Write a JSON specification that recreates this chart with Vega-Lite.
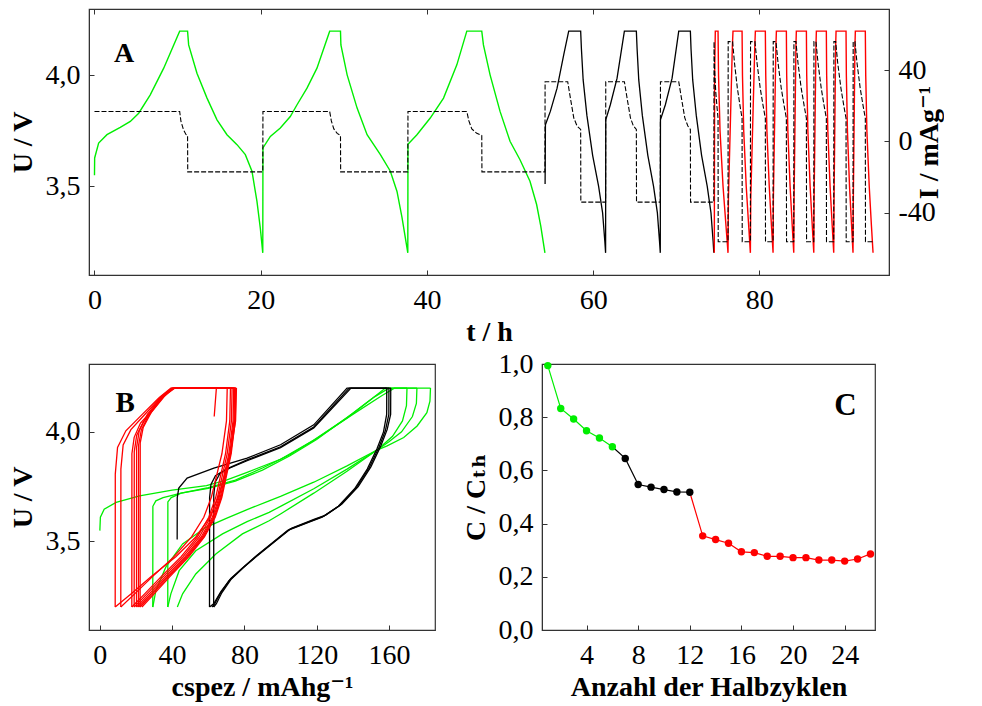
{
"$schema": "https://vega.github.io/schema/vega-lite/v6.json",
"padding": {"left": 8, "top": 7, "right": 0, "bottom": 0},
"background": "white",
"config": {
  "font": "Liberation Serif, Times New Roman, Times, DejaVu Serif, serif",
  "view": {"stroke": "#333", "strokeWidth": 1.2},
  "axis": {"grid": false, "tickSize": -5, "tickColor": "#333", "domainColor": "#333", "labelFontSize": 28, "titleFontSize": 28, "titleFontWeight": "bold", "labelColor": "#000", "titleColor": "#000", "labelFlush": false, "labelOverlap": false, "labelFont": "Liberation Serif, Times New Roman, Times, DejaVu Serif, serif", "titleFont": "Liberation Serif, Times New Roman, Times, DejaVu Serif, serif"},
  "axisX": {"labelPadding": 16, "titlePadding": 4},
  "axisY": {"labelPadding": 14, "titlePadding": 8}
},
"datasets": {
  "aG": [{"t":0,"V":3.55},{"t":0.02,"V":3.628},{"t":0.5,"V":3.695},{"t":1.5,"V":3.733},{"t":3.1,"V":3.766},{"t":4.31,"V":3.793},{"t":5.32,"V":3.83},{"t":6.71,"V":3.913},{"t":8.33,"V":4.033},{"t":10.25,"V":4.2},{"t":11.2,"V":4.2},{"t":11.33,"V":4.138},{"t":12.33,"V":4.01},{"t":13.54,"V":3.898},{"t":14.74,"V":3.8},{"t":15.94,"V":3.733},{"t":17.15,"V":3.688},{"t":18.15,"V":3.643},{"t":18.95,"V":3.568},{"t":19.55,"V":3.432},{"t":19.95,"V":3.312},{"t":20.25,"V":3.2},
  {"t":20.27,"V":3.673},{"t":21.16,"V":3.725},{"t":22.36,"V":3.763},{"t":23.56,"V":3.815},{"t":24.37,"V":3.868},{"t":25.57,"V":3.943},{"t":26.77,"V":4.033},{"t":28.3,"V":4.2},{"t":29.6,"V":4.2},{"t":29.65,"V":4.138},{"t":30.4,"V":4.003},{"t":31.6,"V":3.853},{"t":32.8,"V":3.733},{"t":34.4,"V":3.643},{"t":35.6,"V":3.568},{"t":36.4,"V":3.477},{"t":37.0,"V":3.36},{"t":37.7,"V":3.2},
  {"t":37.72,"V":3.69},{"t":38.8,"V":3.733},{"t":40.4,"V":3.808},{"t":42.0,"V":3.898},{"t":43.6,"V":4.048},{"t":44.8,"V":4.2},{"t":46.6,"V":4.2},{"t":46.8,"V":4.138},{"t":47.6,"V":4.003},{"t":48.8,"V":3.838},{"t":50.0,"V":3.703},{"t":51.2,"V":3.62},{"t":52.4,"V":3.523},{"t":53.2,"V":3.418},{"t":53.7,"V":3.32},{"t":54.2,"V":3.2}],
  "aK": [{"t":54.22,"V":3.51},{"t":54.26,"V":3.778},{"t":54.85,"V":3.838},{"t":55.66,"V":3.943},{"t":56.46,"V":4.093},{"t":57.06,"V":4.2},{"t":58.5,"V":4.2},{"t":58.59,"V":4.12},{"t":58.8,"V":3.98},{"t":59.25,"V":3.82},{"t":59.94,"V":3.64},{"t":60.66,"V":3.5},{"t":61.14,"V":3.38},{"t":61.41,"V":3.25},{"t":61.5,"V":3.2},
  {"t":61.52,"V":3.8},{"t":62.07,"V":3.868},{"t":62.88,"V":3.988},{"t":63.76,"V":4.2},{"t":65.2,"V":4.2},{"t":65.29,"V":4.12},{"t":65.49,"V":3.98},{"t":65.92,"V":3.82},{"t":66.58,"V":3.64},{"t":67.27,"V":3.5},{"t":67.73,"V":3.38},{"t":67.99,"V":3.25},{"t":68.08,"V":3.2},
  {"t":68.1,"V":3.8},{"t":68.69,"V":3.868},{"t":69.5,"V":3.988},{"t":70.3,"V":4.2},{"t":71.7,"V":4.2},{"t":71.78,"V":4.12},{"t":71.98,"V":3.98},{"t":72.41,"V":3.82},{"t":73.05,"V":3.64},{"t":73.73,"V":3.5},{"t":74.18,"V":3.38},{"t":74.44,"V":3.25},{"t":74.52,"V":3.2}],
  "aR": [{"t":74.58,"V":3.2},{"t":74.62,"V":4.0},{"t":74.7,"V":4.2},{"t":75.03,"V":4.2},{"t":75.09,"V":4.0},{"t":75.27,"V":3.75},{"t":75.63,"V":3.5},{"t":75.99,"V":3.32},{"t":76.23,"V":3.2},
  {"t":76.28,"V":3.45},{"t":76.75,"V":4.13},{"t":76.83,"V":4.2},{"t":77.92,"V":4.2},{"t":77.97,"V":4.0},{"t":78.12,"V":3.75},{"t":78.42,"V":3.5},{"t":78.72,"V":3.32},{"t":78.92,"V":3.2},
  {"t":78.97,"V":3.45},{"t":79.45,"V":4.13},{"t":79.52,"V":4.2},{"t":80.72,"V":4.2},{"t":80.77,"V":4.0},{"t":80.91,"V":3.75},{"t":81.19,"V":3.5},{"t":81.46,"V":3.32},{"t":81.65,"V":3.2},
  {"t":81.69,"V":3.45},{"t":81.99,"V":4.13},{"t":82.05,"V":4.2},{"t":83.25,"V":4.2},{"t":83.29,"V":4.0},{"t":83.43,"V":3.75},{"t":83.7,"V":3.5},{"t":83.96,"V":3.32},{"t":84.14,"V":3.2},
  {"t":84.18,"V":3.45},{"t":84.4,"V":4.13},{"t":84.45,"V":4.2},{"t":85.66,"V":4.2},{"t":85.7,"V":4.0},{"t":85.84,"V":3.75},{"t":86.11,"V":3.5},{"t":86.37,"V":3.32},{"t":86.55,"V":3.2},
  {"t":86.59,"V":3.45},{"t":86.81,"V":4.13},{"t":86.86,"V":4.2},{"t":88.06,"V":4.2},{"t":88.1,"V":4.0},{"t":88.24,"V":3.75},{"t":88.51,"V":3.5},{"t":88.77,"V":3.32},{"t":88.95,"V":3.2},
  {"t":88.99,"V":3.45},{"t":89.18,"V":4.13},{"t":89.23,"V":4.2},{"t":90.43,"V":4.2},{"t":90.47,"V":4.0},{"t":90.6,"V":3.75},{"t":90.85,"V":3.5},{"t":91.1,"V":3.32},{"t":91.27,"V":3.2},
  {"t":91.31,"V":3.45},{"t":91.5,"V":4.13},{"t":91.55,"V":4.2},{"t":92.75,"V":4.2},{"t":92.8,"V":4.0},{"t":92.94,"V":3.75},{"t":93.22,"V":3.5},{"t":93.49,"V":3.32},{"t":93.68,"V":3.2}],
  "aI": [{"t":0,"I":16.8},{"t":10.25,"I":16.8},{"t":10.4,"I":11.4},{"t":10.7,"I":6.7},{"t":11.0,"I":3.9},{"t":11.2,"I":3.4},{"t":11.22,"I":-17.1},{"t":20.25,"I":-17.1},{"t":20.27,"I":16.8},{"t":28.3,"I":16.8},{"t":28.5,"I":11.5},{"t":28.8,"I":7},{"t":29.2,"I":4.5},{"t":29.6,"I":3.3},{"t":29.62,"I":-17.1},{"t":37.7,"I":-17.1},{"t":37.72,"I":16.8},{"t":44.8,"I":16.8},{"t":45.05,"I":11.5},{"t":45.4,"I":7},{"t":46.0,"I":4.5},{"t":46.6,"I":3.3},{"t":46.62,"I":-17.1},{"t":54.2,"I":-17.1},
  {"t":54.22,"I":33.5},{"t":56.94,"I":33.5},{"t":57.26,"I":24.4},{"t":57.67,"I":13.2},{"t":58.07,"I":8.6},{"t":58.5,"I":6.7},{"t":58.52,"I":-34.1},{"t":61.5,"I":-34.1},{"t":61.52,"I":33.5},{"t":63.76,"I":33.5},{"t":64.08,"I":24.4},{"t":64.49,"I":13.2},{"t":64.85,"I":8.6},{"t":65.2,"I":6.7},{"t":65.22,"I":-34.1},{"t":68.08,"I":-34.1},{"t":68.1,"I":33.5},{"t":70.3,"I":33.5},{"t":70.62,"I":24.4},{"t":71.03,"I":13.2},{"t":71.4,"I":8.6},{"t":71.7,"I":6.7},{"t":71.72,"I":-34.1},{"t":74.52,"I":-34.1},
  {"t":74.55,"I":56},{"t":74.62,"I":40},{"t":74.75,"I":28},{"t":74.9,"I":19.5},{"t":75.03,"I":13},{"t":75.05,"I":-56.3},{"t":76.23,"I":-56.3},
  {"t":76.25,"I":56},{"t":76.78,"I":56},{"t":77.01,"I":44},{"t":77.35,"I":30},{"t":77.69,"I":19.5},{"t":77.92,"I":13},{"t":77.94,"I":-56.3},{"t":78.92,"I":-56.3},
  {"t":78.94,"I":56},{"t":79.47,"I":56},{"t":79.72,"I":44},{"t":80.1,"I":30},{"t":80.47,"I":19.5},{"t":80.72,"I":13},{"t":80.74,"I":-56.3},{"t":81.65,"I":-56.3},
  {"t":81.67,"I":56},{"t":82.0,"I":56},{"t":82.25,"I":44},{"t":82.63,"I":30},{"t":83.0,"I":19.5},{"t":83.25,"I":13},{"t":83.27,"I":-56.3},{"t":84.14,"I":-56.3},
  {"t":84.16,"I":56},{"t":84.4,"I":56},{"t":84.65,"I":44},{"t":85.03,"I":30},{"t":85.41,"I":19.5},{"t":85.66,"I":13},{"t":85.68,"I":-56.3},{"t":86.55,"I":-56.3},
  {"t":86.57,"I":56},{"t":86.81,"I":56},{"t":87.06,"I":44},{"t":87.44,"I":30},{"t":87.81,"I":19.5},{"t":88.06,"I":13},{"t":88.08,"I":-56.3},{"t":88.95,"I":-56.3},
  {"t":88.97,"I":56},{"t":89.18,"I":56},{"t":89.43,"I":44},{"t":89.81,"I":30},{"t":90.18,"I":19.5},{"t":90.43,"I":13},{"t":90.45,"I":-56.3},{"t":91.27,"I":-56.3},
  {"t":91.29,"I":56},{"t":91.5,"I":56},{"t":91.75,"I":44},{"t":92.13,"I":30},{"t":92.5,"I":19.5},{"t":92.75,"I":13},{"t":92.77,"I":-56.3},{"t":93.68,"I":-56.3}],
  "bG": [
  {"h":1,"c":0,"V":3.549},{"h":1,"c":0.3,"V":3.61},{"h":1,"c":2.4,"V":3.647},{"h":1,"c":9,"V":3.678},{"h":1,"c":22,"V":3.708},{"h":1,"c":40,"V":3.734},{"h":1,"c":59,"V":3.754},{"h":1,"c":70,"V":3.78},{"h":1,"c":81.5,"V":3.815},{"h":1,"c":100,"V":3.875},{"h":1,"c":118,"V":3.96},{"h":1,"c":137,"V":4.065},{"h":1,"c":152,"V":4.16},{"h":1,"c":160,"V":4.2},{"h":1,"c":183,"V":4.2},
  {"h":2,"c":183,"V":4.2},{"h":2,"c":182.7,"V":4.14},{"h":2,"c":181,"V":4.088},{"h":2,"c":175.6,"V":4.027},{"h":2,"c":168.2,"V":3.974},{"h":2,"c":159,"V":3.936},{"h":2,"c":153.4,"V":3.917},{"h":2,"c":136.8,"V":3.845},{"h":2,"c":118.4,"V":3.77},{"h":2,"c":100,"V":3.705},{"h":2,"c":93.7,"V":3.685},{"h":2,"c":81.5,"V":3.645},{"h":2,"c":70,"V":3.605},{"h":2,"c":58.7,"V":3.564},{"h":2,"c":45.8,"V":3.488},{"h":2,"c":36.5,"V":3.382},{"h":2,"c":31,"V":3.275},{"h":2,"c":29.3,"V":3.2},
  {"h":3,"c":29.3,"V":3.2},{"h":3,"c":29.35,"V":3.66},{"h":3,"c":31,"V":3.685},{"h":3,"c":35,"V":3.7},{"h":3,"c":45,"V":3.72},{"h":3,"c":60,"V":3.745},{"h":3,"c":75,"V":3.78},{"h":3,"c":90,"V":3.835},{"h":3,"c":105,"V":3.895},{"h":3,"c":120,"V":3.97},{"h":3,"c":140,"V":4.08},{"h":3,"c":156,"V":4.165},{"h":3,"c":163,"V":4.2},{"h":3,"c":175.5,"V":4.2},
  {"h":4,"c":175.5,"V":4.2},{"h":4,"c":175.2,"V":4.13},{"h":4,"c":173,"V":4.07},{"h":4,"c":167,"V":4.0},{"h":4,"c":160,"V":3.955},{"h":4,"c":153.4,"V":3.917},{"h":4,"c":136.8,"V":3.83},{"h":4,"c":118.4,"V":3.74},{"h":4,"c":100,"V":3.66},{"h":4,"c":93.7,"V":3.632},{"h":4,"c":81.5,"V":3.59},{"h":4,"c":67.9,"V":3.534},{"h":4,"c":53.1,"V":3.457},{"h":4,"c":43.9,"V":3.366},{"h":4,"c":39.3,"V":3.26},{"h":4,"c":37.6,"V":3.2},
  {"h":5,"c":37.6,"V":3.2},{"h":5,"c":37.65,"V":3.68},{"h":5,"c":39.5,"V":3.7},{"h":5,"c":45,"V":3.72},{"h":5,"c":60,"V":3.742},{"h":5,"c":75,"V":3.775},{"h":5,"c":90,"V":3.825},{"h":5,"c":105,"V":3.89},{"h":5,"c":120,"V":3.965},{"h":5,"c":140,"V":4.085},{"h":5,"c":152,"V":4.16},{"h":5,"c":158,"V":4.2},{"h":5,"c":170,"V":4.2},
  {"h":6,"c":170,"V":4.2},{"h":6,"c":169.7,"V":4.12},{"h":6,"c":167.5,"V":4.05},{"h":6,"c":162,"V":3.98},{"h":6,"c":156,"V":3.935},{"h":6,"c":153.4,"V":3.917},{"h":6,"c":136.8,"V":3.82},{"h":6,"c":118.4,"V":3.72},{"h":6,"c":100,"V":3.625},{"h":6,"c":93.7,"V":3.594},{"h":6,"c":78.9,"V":3.534},{"h":6,"c":64.2,"V":3.442},{"h":6,"c":53.1,"V":3.351},{"h":6,"c":45.8,"V":3.26},{"h":6,"c":42.9,"V":3.2}],
  "bK": [
  {"h":7,"c":42.8,"V":3.508},{"h":7,"c":42.85,"V":3.7},{"h":7,"c":43.7,"V":3.743},{"h":7,"c":48.3,"V":3.789},{"h":7,"c":63.1,"V":3.834},{"h":7,"c":81.5,"V":3.88},{"h":7,"c":100,"V":3.941},{"h":7,"c":118.4,"V":4.032},{"h":7,"c":136.8,"V":4.2},{"h":7,"c":161,"V":4.2},
  {"h":8,"c":161,"V":4.2},{"h":8,"c":160.95,"V":4.08},{"h":8,"c":159,"V":4.01},{"h":8,"c":155.5,"V":3.935},{"h":8,"c":150,"V":3.84},{"h":8,"c":143,"V":3.75},{"h":8,"c":134,"V":3.67},{"h":8,"c":125,"V":3.62},{"h":8,"c":118.5,"V":3.6},{"h":8,"c":106,"V":3.56},{"h":8,"c":97,"V":3.5},{"h":8,"c":88,"V":3.44},{"h":8,"c":80,"V":3.385},{"h":8,"c":72.5,"V":3.33},{"h":8,"c":67,"V":3.27},{"h":8,"c":63,"V":3.215},{"h":8,"c":60.7,"V":3.2},
  {"h":9,"c":60.7,"V":3.2},{"h":9,"c":60.75,"V":3.7},{"h":9,"c":61.5,"V":3.76},{"h":9,"c":64,"V":3.8},{"h":9,"c":70,"V":3.83},{"h":9,"c":81.5,"V":3.872},{"h":9,"c":100,"V":3.932},{"h":9,"c":118.4,"V":4.022},{"h":9,"c":138,"V":4.2},{"h":9,"c":160,"V":4.2},
  {"h":10,"c":160,"V":4.2},{"h":10,"c":159.95,"V":4.08},{"h":10,"c":158,"V":4.005},{"h":10,"c":154.5,"V":3.93},{"h":10,"c":149,"V":3.835},{"h":10,"c":142,"V":3.745},{"h":10,"c":133,"V":3.665},{"h":10,"c":124,"V":3.615},{"h":10,"c":117.5,"V":3.595},{"h":10,"c":105,"V":3.555},{"h":10,"c":96,"V":3.495},{"h":10,"c":87,"V":3.435},{"h":10,"c":79.5,"V":3.38},{"h":10,"c":72.5,"V":3.325},{"h":10,"c":67.5,"V":3.265},{"h":10,"c":64.5,"V":3.215},{"h":10,"c":63,"V":3.2},
  {"h":11,"c":63,"V":3.2},{"h":11,"c":63.05,"V":3.71},{"h":11,"c":63.8,"V":3.77},{"h":11,"c":66.5,"V":3.81},{"h":11,"c":72,"V":3.835},{"h":11,"c":81.5,"V":3.868},{"h":11,"c":100,"V":3.928},{"h":11,"c":118.4,"V":4.018},{"h":11,"c":139,"V":4.2},{"h":11,"c":158.8,"V":4.2},
  {"h":12,"c":158.8,"V":4.2},{"h":12,"c":158.75,"V":4.08},{"h":12,"c":157,"V":4.0},{"h":12,"c":153.5,"V":3.925},{"h":12,"c":148,"V":3.83},{"h":12,"c":141,"V":3.74},{"h":12,"c":132,"V":3.66},{"h":12,"c":123,"V":3.61},{"h":12,"c":116.5,"V":3.59},{"h":12,"c":104,"V":3.55},{"h":12,"c":95,"V":3.49},{"h":12,"c":86,"V":3.43},{"h":12,"c":78.5,"V":3.375},{"h":12,"c":71.5,"V":3.32},{"h":12,"c":66.5,"V":3.26},{"h":12,"c":63.5,"V":3.213},{"h":12,"c":62,"V":3.2}],
  "bR": [
  {"h":13,"c":63.3,"V":4.07},{"h":13,"c":64.5,"V":4.2},{"h":13,"c":75.6,"V":4.2},
  {"h":14,"c":75.6,"V":4.2},{"h":14,"c":75.13,"V":4.05},{"h":14,"c":72.25,"V":3.9},{"h":14,"c":68.89,"V":3.8},{"h":14,"c":65.54,"V":3.7},{"h":14,"c":60.84,"V":3.61},{"h":14,"c":53.12,"V":3.52},{"h":14,"c":42.05,"V":3.43},{"h":14,"c":28.63,"V":3.34},{"h":14,"c":17.22,"V":3.26},{"h":14,"c":8.5,"V":3.2},
  {"h":15,"c":8.5,"V":3.2},{"h":15,"c":8.55,"V":3.807},{"h":15,"c":9.8,"V":3.929},{"h":15,"c":14.4,"V":4.005},{"h":15,"c":23.6,"V":4.081},{"h":15,"c":32.9,"V":4.157},{"h":15,"c":39.3,"V":4.2},{"h":15,"c":70.5,"V":4.2},
  {"h":16,"c":70.5,"V":4.2},{"h":16,"c":70.09,"V":4.05},{"h":16,"c":67.56,"V":3.9},{"h":16,"c":64.61,"V":3.8},{"h":16,"c":61.67,"V":3.7},{"h":16,"c":57.54,"V":3.61},{"h":16,"c":50.77,"V":3.52},{"h":16,"c":41.05,"V":3.43},{"h":16,"c":29.27,"V":3.34},{"h":16,"c":19.26,"V":3.26},{"h":16,"c":11.6,"V":3.2},
  {"h":17,"c":11.6,"V":3.2},{"h":17,"c":11.65,"V":3.83},{"h":17,"c":12.9,"V":3.94},{"h":17,"c":17.2,"V":4.01},{"h":17,"c":25.5,"V":4.085},{"h":17,"c":34,"V":4.16},{"h":17,"c":39.8,"V":4.2},{"h":17,"c":72.3,"V":4.2},
  {"h":18,"c":72.3,"V":4.2},{"h":18,"c":71.92,"V":4.05},{"h":18,"c":69.57,"V":3.9},{"h":18,"c":66.84,"V":3.8},{"h":18,"c":64.11,"V":3.7},{"h":18,"c":60.29,"V":3.61},{"h":18,"c":54.01,"V":3.52},{"h":18,"c":45.0,"V":3.43},{"h":18,"c":34.08,"V":3.34},{"h":18,"c":24.8,"V":3.26},{"h":18,"c":17.7,"V":3.2},
  {"h":19,"c":17.7,"V":3.2},{"h":19,"c":17.75,"V":3.9},{"h":19,"c":19,"V":3.975},{"h":19,"c":22.5,"V":4.04},{"h":19,"c":28.5,"V":4.095},{"h":19,"c":35,"V":4.16},{"h":19,"c":40.2,"V":4.2},{"h":19,"c":73.2,"V":4.2},
  {"h":20,"c":73.2,"V":4.2},{"h":20,"c":72.82,"V":4.05},{"h":20,"c":70.49,"V":3.9},{"h":20,"c":67.78,"V":3.8},{"h":20,"c":65.07,"V":3.7},{"h":20,"c":61.28,"V":3.61},{"h":20,"c":55.04,"V":3.52},{"h":20,"c":46.1,"V":3.43},{"h":20,"c":35.26,"V":3.34},{"h":20,"c":26.05,"V":3.26},{"h":20,"c":19,"V":3.2},
  {"h":21,"c":19,"V":3.2},{"h":21,"c":19.05,"V":3.91},{"h":21,"c":20.4,"V":3.985},{"h":21,"c":24,"V":4.045},{"h":21,"c":29.5,"V":4.1},{"h":21,"c":35.5,"V":4.16},{"h":21,"c":40.6,"V":4.2},{"h":21,"c":74.1,"V":4.2},
  {"h":22,"c":74.1,"V":4.2},{"h":22,"c":73.72,"V":4.05},{"h":22,"c":71.41,"V":3.9},{"h":22,"c":68.72,"V":3.8},{"h":22,"c":66.03,"V":3.7},{"h":22,"c":62.26,"V":3.61},{"h":22,"c":56.08,"V":3.52},{"h":22,"c":47.2,"V":3.43},{"h":22,"c":36.44,"V":3.34},{"h":22,"c":27.29,"V":3.26},{"h":22,"c":20.3,"V":3.2},
  {"h":23,"c":20.3,"V":3.2},{"h":23,"c":20.35,"V":3.93},{"h":23,"c":21.8,"V":4.005},{"h":23,"c":26.4,"V":4.081},{"h":23,"c":33.8,"V":4.157},{"h":23,"c":41,"V":4.2},{"h":23,"c":74.6,"V":4.2},
  {"h":24,"c":74.6,"V":4.2},{"h":24,"c":74.23,"V":4.05},{"h":24,"c":71.94,"V":3.9},{"h":24,"c":69.28,"V":3.8},{"h":24,"c":66.62,"V":3.7},{"h":24,"c":62.9,"V":3.61},{"h":24,"c":56.78,"V":3.52},{"h":24,"c":48.0,"V":3.43},{"h":24,"c":37.36,"V":3.34},{"h":24,"c":28.32,"V":3.26},{"h":24,"c":21.4,"V":3.2},
  {"h":25,"c":21.4,"V":3.2},{"h":25,"c":21.45,"V":3.94},{"h":25,"c":23,"V":4.01},{"h":25,"c":27.5,"V":4.085},{"h":25,"c":34.5,"V":4.16},{"h":25,"c":41.3,"V":4.2},{"h":25,"c":75,"V":4.2},
  {"h":26,"c":75,"V":4.2},{"h":26,"c":74.63,"V":4.05},{"h":26,"c":72.37,"V":3.9},{"h":26,"c":69.73,"V":3.8},{"h":26,"c":67.1,"V":3.7},{"h":26,"c":63.41,"V":3.61},{"h":26,"c":57.35,"V":3.52},{"h":26,"c":48.65,"V":3.43},{"h":26,"c":38.11,"V":3.34},{"h":26,"c":29.15,"V":3.26},{"h":26,"c":22.3,"V":3.2},
  {"h":27,"c":22.3,"V":3.2},{"h":27,"c":22.35,"V":3.95},{"h":27,"c":24,"V":4.02},{"h":27,"c":28.5,"V":4.09},{"h":27,"c":35,"V":4.16},{"h":27,"c":41.6,"V":4.2},{"h":27,"c":75.3,"V":4.2},
  {"h":28,"c":75.3,"V":4.2},{"h":28,"c":74.94,"V":4.05},{"h":28,"c":72.7,"V":3.9},{"h":28,"c":70.1,"V":3.8},{"h":28,"c":67.5,"V":3.7},{"h":28,"c":63.86,"V":3.61},{"h":28,"c":57.88,"V":3.52},{"h":28,"c":49.3,"V":3.43},{"h":28,"c":38.9,"V":3.34},{"h":28,"c":30.06,"V":3.26},{"h":28,"c":23.3,"V":3.2}],
  "cap": [{"n":1,"r":0.994},{"n":2,"r":0.833},{"n":3,"r":0.793},{"n":4,"r":0.749},{"n":5,"r":0.722},{"n":6,"r":0.689},{"n":7,"r":0.645},{"n":8,"r":0.547},{"n":9,"r":0.537},{"n":10,"r":0.528},{"n":11,"r":0.519},{"n":12,"r":0.518},{"n":13,"r":0.354},{"n":14,"r":0.34},{"n":15,"r":0.326},{"n":16,"r":0.294},{"n":17,"r":0.291},{"n":18,"r":0.277},{"n":19,"r":0.277},{"n":20,"r":0.272},{"n":21,"r":0.272},{"n":22,"r":0.263},{"n":23,"r":0.263},{"n":24,"r":0.259},{"n":25,"r":0.267},{"n":26,"r":0.286}]
},
"spacing": 2,
"vconcat": [
  {
    "width": 800, "height": 266,
    "layer": [
      {"layer": [
        {"data": {"name": "aG"}, "mark": {"type": "line", "color": "#00ee00", "strokeWidth": 1.4},
         "encoding": {
           "x": {"field": "t", "type": "quantitative", "scale": {"domain": [-0.66, 95.6], "nice": false, "zero": false},
                 "axis": {"values": [0, 20, 40, 60, 80], "labelExpr": "'' + datum.value", "title": "t / h"}},
           "y": {"field": "V", "type": "quantitative", "scale": {"domain": [3.1, 4.3], "nice": false, "zero": false},
                 "axis": {"values": [3.5, 4.0], "labelExpr": "replace(format(datum.value, '.1f'), '.', ',')", "title": "U / V"}}}},
        {"data": {"name": "aK"}, "mark": {"type": "line", "color": "#000000", "strokeWidth": 1.3},
         "encoding": {"x": {"field": "t", "type": "quantitative"}, "y": {"field": "V", "type": "quantitative"}}},
        {"data": {"name": "aR"}, "mark": {"type": "line", "color": "#ff0000", "strokeWidth": 1.4},
         "encoding": {"x": {"field": "t", "type": "quantitative"}, "y": {"field": "V", "type": "quantitative"}}},
        {"data": {"values": [{"t": 3.55, "V": 4.063, "l": "A"}]}, "mark": {"type": "text", "fontSize": 28, "fontWeight": "bold", "baseline": "alphabetic", "align": "center"},
         "encoding": {"x": {"field": "t", "type": "quantitative"}, "y": {"field": "V", "type": "quantitative"}, "text": {"field": "l"}}}
      ]},
      {"data": {"name": "aI"}, "mark": {"type": "line", "color": "#000000", "strokeWidth": 1.1, "strokeDash": [5, 2]},
       "encoding": {
         "x": {"field": "t", "type": "quantitative", "axis": {"orient": "top", "labels": false, "title": null, "values": [0, 20, 40, 60, 80]}},
         "y": {"field": "I", "type": "quantitative", "scale": {"domain": [-75, 74.3], "nice": false, "zero": false},
               "axis": {"orient": "right", "values": [-40, 0, 40], "labelExpr": "'' + datum.value", "title": "I / mAg⁻¹", "titleAngle": 270}}}}
    ],
    "resolve": {"scale": {"y": "independent"}, "axis": {"x": "independent"}}
  },
  {
    "spacing": 25,
    "hconcat": [
      {
        "width": 346, "height": 266,
        "layer": [
          {"data": {"name": "bG"}, "mark": {"type": "line", "color": "#00ee00", "strokeWidth": 1.3},
           "encoding": {
             "x": {"field": "c", "type": "quantitative", "scale": {"domain": [-6, 185.5], "nice": false, "zero": false},
                   "axis": {"values": [0, 40, 80, 120, 160], "labelExpr": "'' + datum.value", "title": "cspez / mAhg⁻¹"}},
             "y": {"field": "V", "type": "quantitative", "scale": {"domain": [3.095, 4.31], "nice": false, "zero": false},
                   "axis": {"values": [3.5, 4.0], "labelExpr": "replace(format(datum.value, '.1f'), '.', ',')", "title": "U / V"}},
             "detail": {"field": "h", "type": "nominal"}}},
          {"data": {"name": "bK"}, "mark": {"type": "line", "color": "#000000", "strokeWidth": 1.3},
           "encoding": {"x": {"field": "c", "type": "quantitative"}, "y": {"field": "V", "type": "quantitative"}, "detail": {"field": "h", "type": "nominal"}}},
          {"data": {"name": "bR"}, "mark": {"type": "line", "color": "#ff0000", "strokeWidth": 1.3},
           "encoding": {"x": {"field": "c", "type": "quantitative"}, "y": {"field": "V", "type": "quantitative"}, "detail": {"field": "h", "type": "nominal"}}},
          {"data": {"values": [{"c": 14, "V": 4.09, "l": "B"}]}, "mark": {"type": "text", "fontSize": 29, "fontWeight": "bold", "baseline": "alphabetic", "align": "center"},
           "encoding": {"x": {"field": "c", "type": "quantitative"}, "y": {"field": "V", "type": "quantitative"}, "text": {"field": "l"}}}
        ]
      },
      {
        "width": 333, "height": 266,
        "layer": [
          {"data": {"name": "cap"}, "transform": [{"filter": "datum.n <= 6"}], "mark": {"type": "line", "color": "#00ee00", "strokeWidth": 1.2},
           "encoding": {
             "x": {"field": "n", "type": "quantitative", "scale": {"domain": [0.55, 26.35], "nice": false, "zero": false},
                   "axis": {"values": [4, 8, 12, 16, 20, 24], "labelExpr": "'' + datum.value", "title": "Anzahl der Halbzyklen"}},
             "y": {"field": "r", "type": "quantitative", "scale": {"domain": [0, 1], "nice": false, "zero": false},
                   "axis": {"values": [0, 0.2, 0.4, 0.6, 0.8, 1.0], "labelExpr": "replace(format(datum.value, '.1f'), '.', ',')", "title": "C / Cₜₕ"}}}},
          {"data": {"name": "cap"}, "transform": [{"filter": "datum.n >= 6 && datum.n <= 12"}], "mark": {"type": "line", "color": "#000000", "strokeWidth": 1.2},
           "encoding": {"x": {"field": "n", "type": "quantitative"}, "y": {"field": "r", "type": "quantitative"}}},
          {"data": {"name": "cap"}, "transform": [{"filter": "datum.n >= 12"}], "mark": {"type": "line", "color": "#ff0000", "strokeWidth": 1.2},
           "encoding": {"x": {"field": "n", "type": "quantitative"}, "y": {"field": "r", "type": "quantitative"}}},
          {"data": {"name": "cap"}, "transform": [{"filter": "datum.n <= 6"}], "mark": {"type": "circle", "color": "#00ee00", "size": 55, "opacity": 1},
           "encoding": {"x": {"field": "n", "type": "quantitative"}, "y": {"field": "r", "type": "quantitative"}}},
          {"data": {"name": "cap"}, "transform": [{"filter": "datum.n >= 7 && datum.n <= 12"}], "mark": {"type": "circle", "color": "#000000", "size": 55, "opacity": 1},
           "encoding": {"x": {"field": "n", "type": "quantitative"}, "y": {"field": "r", "type": "quantitative"}}},
          {"data": {"name": "cap"}, "transform": [{"filter": "datum.n >= 13"}], "mark": {"type": "circle", "color": "#ff0000", "size": 55, "opacity": 1},
           "encoding": {"x": {"field": "n", "type": "quantitative"}, "y": {"field": "r", "type": "quantitative"}}},
          {"data": {"values": [{"n": 24.05, "r": 0.81, "l": "C"}]}, "mark": {"type": "text", "fontSize": 31, "fontWeight": "bold", "baseline": "alphabetic", "align": "center"},
           "encoding": {"x": {"field": "n", "type": "quantitative"}, "y": {"field": "r", "type": "quantitative"}, "text": {"field": "l"}}}
        ]
      }
    ]
  }
]
}
